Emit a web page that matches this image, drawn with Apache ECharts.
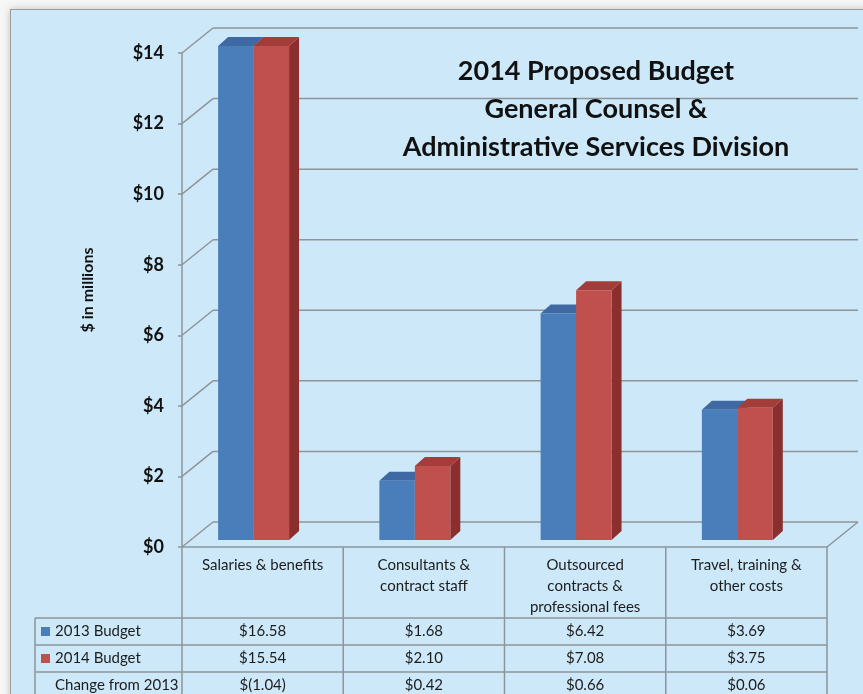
<!DOCTYPE html>
<html>
<head>
<meta charset="utf-8">
<script src="https://cdn.jsdelivr.net/npm/echarts@6/dist/echarts.min.js"></script>
<style>
  html, body { margin: 0; padding: 0; background: #f6f6f6; overflow: hidden; }
  #frame {
    position: absolute; left: 10px; top: 9px; width: 900px; height: 720px;
    background: #cde9f9; border: 1.5px solid #9c9c9c;
    box-shadow: 0 0 7px rgba(0, 0, 0, 0.22);
  }
  #chart { position: absolute; left: 0; top: 0; width: 863px; height: 694px; }
</style>
</head>
<body>
<div id="frame"></div>
<div id="chart"></div>
<script>
// Budget by spending category, $ in millions
const categories = [
  'Salaries & benefits',
  'Consultants &\ncontract staff',
  'Outsourced\ncontracts &\nprofessional fees',
  'Travel, training &\nother costs'
];
const budget2013 = [16.58, 1.68, 6.42, 3.69];
const budget2014 = [15.54, 2.10, 7.08, 3.75];
const changeFrom2013 = [-1.04, 0.42, 0.66, 0.06];
const yTicks = [0, 2, 4, 6, 8, 10, 12, 14];
const yMax = 14;
const seriesNames = ['2013 Budget', '2014 Budget'];
const rowLabels = ['2013 Budget', '2014 Budget', 'Change from 2013'];

// 3-D look: oblique offsets in pixels
const FLOOR_DEPTH = [31, -25];   // front edge -> back wall
const BAR_PLANE_Y = -7;          // bars stand a little behind the front edge
const BAR_SIDE = [10, -9];       // visible side/top depth of each bar

const FONT = 'Lato, "Open Sans", sans-serif';
const TEXT = '#1c1c1c';

const faces = [
  { front: '#4a7ebb', side: '#375f8f', top: '#3e69a2' },
  { front: '#c0504d', side: '#8a2f2d', top: '#a33d3a' }
];

function money(v) {
  return v < 0 ? '$(' + Math.abs(v).toFixed(2) + ')' : '$' + v.toFixed(2);
}

const chart = echarts.init(document.getElementById('chart'), null, { renderer: 'canvas' });

function wallItem(params, api) {
  const cs = params.coordSys;
  const v = api.value(1);
  const y = api.coord([0, v])[1];
  const xL = cs.x, xR = cs.x + cs.width;
  const st = { stroke: '#8e9499', lineWidth: 1.5 };
  const children = [
    { type: 'line', shape: { x1: xL, y1: y, x2: xL + FLOOR_DEPTH[0], y2: y + FLOOR_DEPTH[1] }, style: st },
    { type: 'line', shape: { x1: xL + FLOOR_DEPTH[0], y1: y + FLOOR_DEPTH[1], x2: xR + FLOOR_DEPTH[0], y2: y + FLOOR_DEPTH[1] }, style: st }
  ];
  if (v === 0) {
    children.push({ type: 'line', shape: { x1: xR, y1: y, x2: xR + FLOOR_DEPTH[0], y2: y + FLOOR_DEPTH[1] }, style: st });
  }
  return { type: 'group', children };
}

function barRenderer(k) {
  return function (params, api) {
    const idx = api.value(0);
    const v = api.value(1);
    const band = api.size([1, 0])[0];
    const w = band * 0.22;
    const center = api.coord([idx, 0])[0];
    const x0 = center - band * 0.056 - w + k * w;
    const yt = api.coord([idx, Math.min(v, yMax)])[1] + BAR_PLANE_Y;
    const yb = api.coord([idx, 0])[1] + BAR_PLANE_Y;
    const c = faces[k];
    const sx = BAR_SIDE[0], sy = BAR_SIDE[1];
    return {
      type: 'group',
      children: [
        { type: 'polygon', shape: { points: [[x0 + w, yt], [x0 + w + sx, yt + sy], [x0 + w + sx, yb + sy], [x0 + w, yb]] }, style: { fill: c.side } },
        { type: 'polygon', shape: { points: [[x0, yt], [x0 + w, yt], [x0 + w + sx, yt + sy], [x0 + sx, yt + sy]] }, style: { fill: c.top } },
        { type: 'rect', shape: { x: x0, y: yt, width: w, height: yb - yt }, style: { fill: c.front } }
      ]
    };
  };
}

chart.setOption({
  backgroundColor: 'transparent',
  animation: false,
  title: {
    text: '2014 Proposed Budget\nGeneral Counsel &\nAdministrative Services Division',
    left: 591, top: 47, textAlign: 'center',
    textStyle: { fontFamily: FONT, fontSize: 27, fontWeight: 'bold', color: '#111', lineHeight: 38 }
  },
  grid: { left: 182, top: 53, width: 645, height: 494 },
  xAxis: {
    type: 'category',
    data: categories,
    axisLine: { lineStyle: { color: '#8e9499', width: 1.5 } },
    axisTick: { show: false },
    axisLabel: {
      interval: 0, margin: 8, color: TEXT, fontFamily: FONT, fontSize: 15, lineHeight: 21
    }
  },
  yAxis: {
    type: 'value',
    min: 0, max: yMax, interval: 2,
    name: '$ in millions',
    nameLocation: 'middle', nameGap: 86, nameRotate: 90,
    nameTextStyle: { fontFamily: FONT, fontSize: 16, fontWeight: 'bold', color: '#111', padding: [0, 0, 0, 20] },
    axisLine: { show: true, lineStyle: { color: '#8e9499', width: 1.5 } },
    axisTick: { show: true, length: 4, inside: false, lineStyle: { color: '#8e9499', width: 1.5 } },
    splitLine: { show: false },
    axisLabel: {
      margin: 18, color: '#111', fontFamily: FONT, fontSize: 18, fontWeight: 'bold',
      formatter: v => '$' + v
    }
  },
  series: [
    {
      type: 'custom', name: 'walls', z: 1, clip: false,
      renderItem: wallItem,
      encode: { x: 0, y: 1 },
      data: yTicks.map(v => [0, v])
    },
    {
      type: 'custom', name: seriesNames[0], z: 3, clip: false,
      renderItem: barRenderer(0),
      encode: { x: 0, y: 1 },
      data: budget2013.map((v, i) => [i, v])
    },
    {
      type: 'custom', name: seriesNames[1], z: 4, clip: false,
      renderItem: barRenderer(1),
      encode: { x: 0, y: 1 },
      data: budget2014.map((v, i) => [i, v])
    }
  ]
});

// Data table under the category axis, aligned with the category bands
(function drawTable() {
  const c0 = chart.convertToPixel({ gridIndex: 0 }, [0, 0]);
  const c1 = chart.convertToPixel({ gridIndex: 0 }, [1, 0]);
  const band = c1[0] - c0[0];
  const axisY = c0[1];
  const left = c0[0] - band / 2;
  const right = left + band * categories.length;
  const tableLeft = 35;
  const headerH = 71;
  const rowH = 27;
  const bottom = 720;
  const lineStyle = { stroke: '#8e9499', lineWidth: 1.5 };
  const els = [];

  for (let i = 0; i <= categories.length; i++) {
    const x = left + band * i;
    els.push({ type: 'line', shape: { x1: x, y1: axisY, x2: x, y2: bottom }, style: lineStyle, silent: true });
  }
  els.push({ type: 'line', shape: { x1: tableLeft, y1: axisY + headerH, x2: tableLeft, y2: bottom }, style: lineStyle, silent: true });
  for (let r = 0; r < rowLabels.length; r++) {
    const y = axisY + headerH + rowH * r;
    els.push({ type: 'line', shape: { x1: tableLeft, y1: y, x2: right, y2: y }, style: lineStyle, silent: true });
  }

  const rows = [budget2013, budget2014, changeFrom2013];
  rows.forEach((vals, r) => {
    const yMid = axisY + headerH + rowH * r + rowH / 2;
    if (r < 2) {
      els.push({ type: 'rect', shape: { x: tableLeft + 6, y: yMid - 4.5, width: 9, height: 9 }, style: { fill: faces[r].front }, silent: true });
    }
    els.push({
      type: 'text', x: tableLeft + 20, y: yMid,
      style: { text: rowLabels[r], fill: TEXT, font: '15px ' + FONT, textVerticalAlign: 'middle', verticalAlign: 'middle' },
      silent: true
    });
    vals.forEach((v, i) => {
      els.push({
        type: 'text', x: left + band * (i + 0.5), y: yMid,
        style: { text: money(v), fill: TEXT, font: '15px ' + FONT, textAlign: 'center', align: 'center', textVerticalAlign: 'middle', verticalAlign: 'middle' },
        silent: true
      });
    });
  });

  chart.setOption({ graphic: { elements: els } });
})();
</script>
</body>
</html>
